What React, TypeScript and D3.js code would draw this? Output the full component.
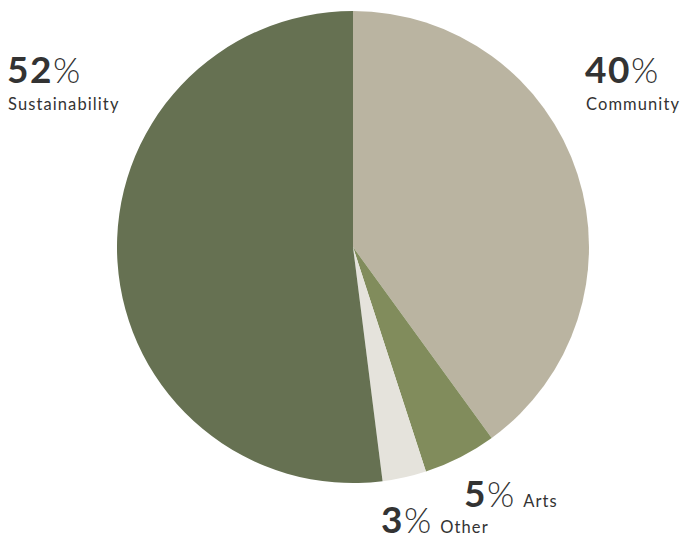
import React from "react";
import * as d3 from "d3";

const categories = ["Community", "Arts", "Other", "Sustainability"];
const values = [40, 5, 3, 52];
const colors = ["#bab4a1", "#818c5c", "#e5e3dc", "#667152"];

// label layout (percent text anchor, category placement)
const labelLayout = [
  { x: 585, y: 83, below: true },
  { x: 464, y: 507, below: false },
  { x: 381, y: 533, below: false },
  { x: 7, y: 83, below: true },
];

const W = 685;
const H = 539;
const cx = 353;
const cy = 247;
const R = 236;

export default function App() {
  const pie = d3.pie<number>().sort(null).value((d) => d)(values);
  const arc = d3.arc<d3.PieArcDatum<number>>().innerRadius(0).outerRadius(R);
  const font = "Lato, 'Open Sans', sans-serif";
  return (
    <svg
      width={W}
      height={H}
      style={{ position: "absolute", left: 0, top: 0, background: "#fff" }}
    >
      <g transform={`translate(${cx},${cy})`}>
        {pie.map((p, i) => (
          <path key={i} d={arc(p) || ""} fill={colors[i]} />
        ))}
      </g>
      {labelLayout.map((l, i) => (
        <g key={i} fontFamily={font} fill="#333">
          <text x={l.x} y={l.y}>
            <tspan fontSize={37} fontWeight={700} letterSpacing={1.5}>
              {values[i]}
            </tspan>
            <tspan fontSize={35} fontWeight={300}>
              %
            </tspan>
            {!l.below && (
              <tspan fontSize={16.5} fontWeight={400} letterSpacing={1.1} dx={9}>
                {categories[i]}
              </tspan>
            )}
          </text>
          {l.below && (
            <text x={l.x + 1} y={l.y + 27} fontSize={16.5} fontWeight={400} letterSpacing={1.1}>
              {categories[i]}
            </text>
          )}
        </g>
      ))}
    </svg>
  );
}
